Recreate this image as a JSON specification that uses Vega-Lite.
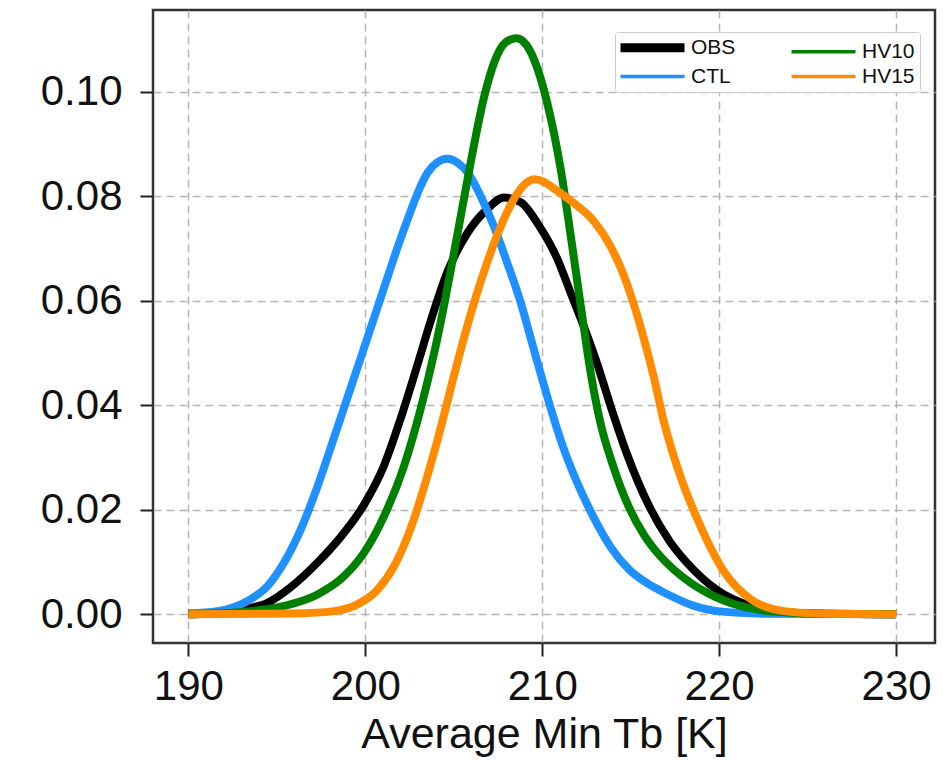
{
  "$schema": "https://vega.github.io/schema/vega-lite/v6.json",
  "width": 782,
  "height": 633,
  "autosize": {"type": "none"},
  "padding": {"left": 153, "top": 10, "right": 8, "bottom": 118},
  "background": "white",
  "config": {
    "view": {"stroke": "#333333", "strokeWidth": 2.5},
    "font": "Liberation Sans",
    "axis": {
      "labelFont": "Liberation Sans",
      "labelFontSize": 42,
      "labelColor": "#111111",
      "titleFont": "Liberation Sans",
      "titleFontSize": 43,
      "titleFontWeight": "normal",
      "titleColor": "#111111",
      "domain": false,
      "tickColor": "#222222",
      "tickWidth": 2,
      "tickSize": 13,
      "grid": true,
      "gridColor": "#b5b5b5",
      "gridDash": [8, 5],
      "gridWidth": 1.5
    }
  },
  "data": {
    "values": [
      {"s": "OBS", "x": 190, "y": 0},
      {"s": "OBS", "x": 191, "y": 0.0001},
      {"s": "OBS", "x": 192.59, "y": 0.0006},
      {"s": "OBS", "x": 193.5, "y": 0.0012},
      {"s": "OBS", "x": 194.47, "y": 0.0022},
      {"s": "OBS", "x": 195.79, "y": 0.0052},
      {"s": "OBS", "x": 197.3, "y": 0.0099},
      {"s": "OBS", "x": 198.8, "y": 0.0156},
      {"s": "OBS", "x": 199.93, "y": 0.021},
      {"s": "OBS", "x": 201.06, "y": 0.0285},
      {"s": "OBS", "x": 202.0, "y": 0.0375},
      {"s": "OBS", "x": 202.95, "y": 0.0478},
      {"s": "OBS", "x": 203.7, "y": 0.0562},
      {"s": "OBS", "x": 204.6, "y": 0.0652},
      {"s": "OBS", "x": 205.77, "y": 0.073},
      {"s": "OBS", "x": 206.9, "y": 0.0776},
      {"s": "OBS", "x": 207.84, "y": 0.0798},
      {"s": "OBS", "x": 208.79, "y": 0.0789},
      {"s": "OBS", "x": 209.8, "y": 0.0745},
      {"s": "OBS", "x": 210.86, "y": 0.068},
      {"s": "OBS", "x": 211.61, "y": 0.0615},
      {"s": "OBS", "x": 212.36, "y": 0.055},
      {"s": "OBS", "x": 213.12, "y": 0.0478},
      {"s": "OBS", "x": 213.87, "y": 0.0398},
      {"s": "OBS", "x": 214.81, "y": 0.0305},
      {"s": "OBS", "x": 216.0, "y": 0.021},
      {"s": "OBS", "x": 217.2, "y": 0.014},
      {"s": "OBS", "x": 218.2, "y": 0.0098},
      {"s": "OBS", "x": 219.9, "y": 0.0046},
      {"s": "OBS", "x": 221.78, "y": 0.0016},
      {"s": "OBS", "x": 223.66, "y": 0.0004},
      {"s": "OBS", "x": 226, "y": 0.0001},
      {"s": "OBS", "x": 230, "y": 0},

      {"s": "CTL", "x": 190, "y": 0.0002},
      {"s": "CTL", "x": 191.65, "y": 0.0006},
      {"s": "CTL", "x": 192.6, "y": 0.0014},
      {"s": "CTL", "x": 193.53, "y": 0.0029},
      {"s": "CTL", "x": 194.47, "y": 0.0054},
      {"s": "CTL", "x": 195.41, "y": 0.0099},
      {"s": "CTL", "x": 196.36, "y": 0.0163},
      {"s": "CTL", "x": 197.3, "y": 0.0245},
      {"s": "CTL", "x": 198.24, "y": 0.0339},
      {"s": "CTL", "x": 199.18, "y": 0.0434},
      {"s": "CTL", "x": 200.1, "y": 0.0527},
      {"s": "CTL", "x": 201.0, "y": 0.0619},
      {"s": "CTL", "x": 201.9, "y": 0.071},
      {"s": "CTL", "x": 202.5, "y": 0.0766},
      {"s": "CTL", "x": 203.0, "y": 0.081},
      {"s": "CTL", "x": 203.51, "y": 0.0845},
      {"s": "CTL", "x": 204.1, "y": 0.0866},
      {"s": "CTL", "x": 204.64, "y": 0.0872},
      {"s": "CTL", "x": 205.2, "y": 0.0865},
      {"s": "CTL", "x": 205.8, "y": 0.0845},
      {"s": "CTL", "x": 206.53, "y": 0.08},
      {"s": "CTL", "x": 207.28, "y": 0.0742},
      {"s": "CTL", "x": 208.03, "y": 0.0672},
      {"s": "CTL", "x": 208.79, "y": 0.0596},
      {"s": "CTL", "x": 209.5, "y": 0.051},
      {"s": "CTL", "x": 210.3, "y": 0.0415},
      {"s": "CTL", "x": 211.1, "y": 0.0328},
      {"s": "CTL", "x": 211.9, "y": 0.0258},
      {"s": "CTL", "x": 212.9, "y": 0.0186},
      {"s": "CTL", "x": 213.9, "y": 0.0127},
      {"s": "CTL", "x": 214.9, "y": 0.0086},
      {"s": "CTL", "x": 216.0, "y": 0.0058},
      {"s": "CTL", "x": 217.1, "y": 0.0038},
      {"s": "CTL", "x": 218.5, "y": 0.0017},
      {"s": "CTL", "x": 219.9, "y": 0.0006},
      {"s": "CTL", "x": 222.7, "y": 0.0001},
      {"s": "CTL", "x": 230, "y": 0},

      {"s": "HV10", "x": 190, "y": 0},
      {"s": "HV10", "x": 192, "y": 0.0002},
      {"s": "HV10", "x": 193.53, "y": 0.0006},
      {"s": "HV10", "x": 195.41, "y": 0.0016},
      {"s": "HV10", "x": 197.3, "y": 0.0038},
      {"s": "HV10", "x": 198.8, "y": 0.0073},
      {"s": "HV10", "x": 199.93, "y": 0.0118},
      {"s": "HV10", "x": 201.06, "y": 0.0188},
      {"s": "HV10", "x": 202.19, "y": 0.0284},
      {"s": "HV10", "x": 203.14, "y": 0.0395},
      {"s": "HV10", "x": 203.89, "y": 0.05},
      {"s": "HV10", "x": 204.5, "y": 0.06},
      {"s": "HV10", "x": 205.21, "y": 0.0728},
      {"s": "HV10", "x": 205.96, "y": 0.0866},
      {"s": "HV10", "x": 206.71, "y": 0.099},
      {"s": "HV10", "x": 207.3, "y": 0.1058},
      {"s": "HV10", "x": 207.9, "y": 0.1094},
      {"s": "HV10", "x": 208.54, "y": 0.1103},
      {"s": "HV10", "x": 209.1, "y": 0.109},
      {"s": "HV10", "x": 209.54, "y": 0.1062},
      {"s": "HV10", "x": 210.29, "y": 0.0978},
      {"s": "HV10", "x": 211.05, "y": 0.0851},
      {"s": "HV10", "x": 211.61, "y": 0.0725},
      {"s": "HV10", "x": 212.18, "y": 0.059},
      {"s": "HV10", "x": 212.74, "y": 0.0462},
      {"s": "HV10", "x": 213.3, "y": 0.0365},
      {"s": "HV10", "x": 214.0, "y": 0.0285},
      {"s": "HV10", "x": 214.9, "y": 0.0205},
      {"s": "HV10", "x": 215.75, "y": 0.0152},
      {"s": "HV10", "x": 216.6, "y": 0.0114},
      {"s": "HV10", "x": 217.45, "y": 0.0085},
      {"s": "HV10", "x": 218.4, "y": 0.006},
      {"s": "HV10", "x": 219.33, "y": 0.0041},
      {"s": "HV10", "x": 220.3, "y": 0.0026},
      {"s": "HV10", "x": 221.21, "y": 0.0016},
      {"s": "HV10", "x": 222.4, "y": 0.0008},
      {"s": "HV10", "x": 223.66, "y": 0.0004},
      {"s": "HV10", "x": 226, "y": 0.0001},
      {"s": "HV10", "x": 230, "y": 0},

      {"s": "HV15", "x": 190, "y": 0},
      {"s": "HV15", "x": 194, "y": 0.0001},
      {"s": "HV15", "x": 196.5, "y": 0.0002},
      {"s": "HV15", "x": 198.24, "y": 0.0006},
      {"s": "HV15", "x": 199.56, "y": 0.0019},
      {"s": "HV15", "x": 200.69, "y": 0.0047},
      {"s": "HV15", "x": 201.63, "y": 0.0092},
      {"s": "HV15", "x": 202.57, "y": 0.0165},
      {"s": "HV15", "x": 203.51, "y": 0.0265},
      {"s": "HV15", "x": 204.27, "y": 0.0358},
      {"s": "HV15", "x": 205.02, "y": 0.0458},
      {"s": "HV15", "x": 205.96, "y": 0.0575},
      {"s": "HV15", "x": 206.9, "y": 0.0675},
      {"s": "HV15", "x": 207.84, "y": 0.0757},
      {"s": "HV15", "x": 208.6, "y": 0.0806},
      {"s": "HV15", "x": 209.1, "y": 0.0826},
      {"s": "HV15", "x": 209.54, "y": 0.0833},
      {"s": "HV15", "x": 210.1, "y": 0.0828},
      {"s": "HV15", "x": 210.67, "y": 0.0815},
      {"s": "HV15", "x": 211.8, "y": 0.0787},
      {"s": "HV15", "x": 212.93, "y": 0.0752},
      {"s": "HV15", "x": 213.87, "y": 0.0704},
      {"s": "HV15", "x": 214.62, "y": 0.0648},
      {"s": "HV15", "x": 215.19, "y": 0.0592},
      {"s": "HV15", "x": 215.75, "y": 0.0527},
      {"s": "HV15", "x": 216.3, "y": 0.0455},
      {"s": "HV15", "x": 216.88, "y": 0.0368},
      {"s": "HV15", "x": 217.82, "y": 0.0263},
      {"s": "HV15", "x": 218.85, "y": 0.0176},
      {"s": "HV15", "x": 220.27, "y": 0.0082},
      {"s": "HV15", "x": 221.78, "y": 0.0029},
      {"s": "HV15", "x": 223.66, "y": 0.0006},
      {"s": "HV15", "x": 226, "y": 0.0001},
      {"s": "HV15", "x": 230, "y": 0}
    ]
  },
  "mark": {"type": "line", "strokeWidth": 8, "interpolate": "monotone", "clip": true},
  "encoding": {
    "x": {
      "field": "x",
      "type": "quantitative",
      "scale": {"domain": [188, 232.2], "nice": false, "zero": false},
      "axis": {
        "values": [190, 200, 210, 220, 230],
        "format": "d",
        "title": "Average Min Tb [K]",
        "labelPadding": 10,
        "titlePadding": 6
      }
    },
    "y": {
      "field": "y",
      "type": "quantitative",
      "scale": {"domain": [-0.0055, 0.1157], "nice": false, "zero": false},
      "axis": {
        "values": [0, 0.02, 0.04, 0.06, 0.08, 0.1],
        "format": ".2f",
        "title": null,
        "labelPadding": 18
      }
    },
    "color": {
      "field": "s",
      "type": "nominal",
      "scale": {
        "domain": ["OBS", "CTL", "HV10", "HV15"],
        "range": ["#000000", "#1E90FF", "#008000", "#FF8C00"]
      },
      "legend": {
        "orient": "none",
        "legendX": 462,
        "legendY": 22,
        "columns": 2,
        "title": null,
        "symbolType": "M-2,0H10.8",
        "symbolSize": 100,
        "symbolStrokeWidth": 3.5,
        "labelFont": "Liberation Sans",
        "labelFontSize": 21,
        "labelColor": "#111111",
        "labelOffset": 50,
        "fillColor": "white",
        "strokeColor": "#cccccc",
        "cornerRadius": 3,
        "padding": 5,
        "rowPadding": -6,
        "columnPadding": 48,
        "encode": {
          "symbols": {"update": {"strokeWidth": {"signal": "datum.value === 'OBS' ? 9 : 3.5"}}}
        }
      }
    }
  }
}
